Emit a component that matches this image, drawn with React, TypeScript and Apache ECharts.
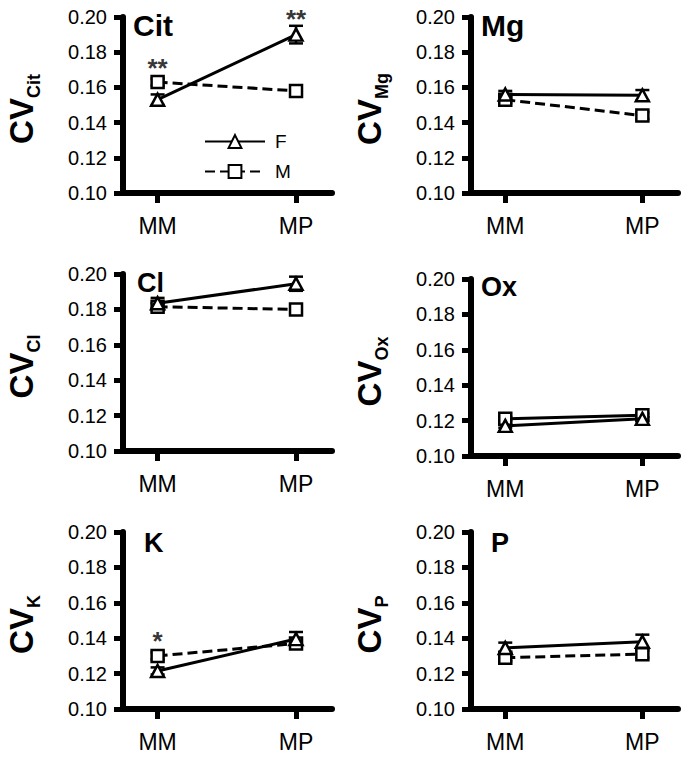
import React, { useEffect, useRef } from 'react';
import * as echarts from 'echarts';

const categories = ['MM', 'MP'];
const panelNames = ['Cit', 'Mg', 'Cl', 'Ox', 'K', 'P'];
const femaleValues = [
  [0.153, 0.190],
  [0.156, 0.1555],
  [0.1835, 0.1945],
  [0.117, 0.121],
  [0.1215, 0.1395],
  [0.1345, 0.138],
];
const femaleErrors = [
  [0.003, 0.005],
  [0.002, 0.003],
  [0.003, 0.004],
  [0.001, 0.001],
  [0.002, 0.004],
  [0.003, 0.004],
];
const maleValues = [
  [0.163, 0.158],
  [0.153, 0.144],
  [0.1815, 0.180],
  [0.121, 0.123],
  [0.130, 0.137],
  [0.129, 0.131],
];
const maleErrors = [
  [0.002, 0.002],
  [0.002, 0.002],
  [0.002, 0.002],
  [0.001, 0.001],
  [0.002, 0.002],
  [0.002, 0.002],
];
const starPanels = [0, 0, 4];
const starCats = [0, 1, 0];
const starValues = [0.1712, 0.199, 0.1386];
const starTexts = ['**', '**', '*'];
const yMin = 0.1;
const yMax = 0.2;
const yInterval = 0.02;

const FONT = "Arial, 'Liberation Sans', sans-serif";
const maleDash: any[] = [[10, 5], [10, 5], [10, 5], 'solid', [10, 5], [10, 5]];
const AXIS_W = 6;
const TICK_W = 5;

const grids = [
  { left: 123, top: 17, width: 209, height: 176 },
  { left: 471, top: 17, width: 207, height: 176 },
  { left: 123, top: 274, width: 209, height: 177 },
  { left: 471, top: 279, width: 207, height: 177 },
  { left: 123, top: 532, width: 209, height: 177 },
  { left: 471, top: 532, width: 207, height: 177 },
];
const titlePos = [
  { x: 133, y: 25, size: 30 },
  { x: 481, y: 25, size: 30 },
  { x: 137, y: 283, size: 27 },
  { x: 481, y: 287, size: 27 },
  { x: 144, y: 543, size: 27 },
  { x: 491, y: 543, size: 27 },
];

export default function App() {
  const ref = useRef<HTMLDivElement>(null);
  useEffect(() => {
    if (!ref.current) return;
    const chart = echarts.init(ref.current, undefined, { renderer: 'svg' });

    const xAxes: any[] = [];
    const yAxes: any[] = [];
    const series: any[] = [];
    const graphic: any[] = [];

    grids.forEach((g, i) => {
      xAxes.push({
        type: 'value',
        gridIndex: i,
        min: -0.25,
        max: 1.26,
        axisLine: { show: true, onZero: false, lineStyle: { color: '#000', width: AXIS_W } },
        axisTick: { show: true, customValues: [0, 1], length: 10, lineStyle: { color: '#000', width: TICK_W } },
        axisLabel: {
          show: true,
          customValues: [0, 1],
          formatter: (v: number) => categories[Math.round(v)] ?? '',
          fontSize: 23,
          color: '#000',
          fontFamily: FONT,
          margin: 21,
        },
        splitLine: { show: false },
      });
      yAxes.push({
        type: 'value',
        gridIndex: i,
        min: yMin,
        max: yMax,
        interval: yInterval,
        axisLine: { show: true, onZero: false, lineStyle: { color: '#000', width: AXIS_W } },
        axisTick: { show: true, length: 9, lineStyle: { color: '#000', width: TICK_W } },
        axisLabel: {
          formatter: (v: number) => v.toFixed(2),
          fontSize: 20,
          color: '#000',
          fontFamily: FONT,
          margin: 16,
        },
        splitLine: { show: false },
      });

      const errData = [
        ...femaleValues[i].map((v, k) => [k, v - femaleErrors[i][k], v + femaleErrors[i][k]]),
        ...maleValues[i].map((v, k) => [k, v - maleErrors[i][k], v + maleErrors[i][k]]),
      ];
      series.push({
        type: 'custom',
        xAxisIndex: i,
        yAxisIndex: i,
        z: 1,
        silent: true,
        encode: { x: 0, y: [1, 2] },
        data: errData,
        renderItem: (params: any, api: any) => {
          const x = api.value(0);
          const lo = api.coord([x, api.value(1)]);
          const hi = api.coord([x, api.value(2)]);
          const hw = 7;
          const st = { stroke: '#000', lineWidth: 2.5 };
          return {
            type: 'group',
            children: [
              { type: 'line', shape: { x1: lo[0], y1: lo[1], x2: hi[0], y2: hi[1] }, style: st },
              { type: 'line', shape: { x1: lo[0] - hw, y1: lo[1], x2: lo[0] + hw, y2: lo[1] }, style: st },
              { type: 'line', shape: { x1: hi[0] - hw, y1: hi[1], x2: hi[0] + hw, y2: hi[1] }, style: st },
            ],
          };
        },
      });
      series.push({
        name: 'M',
        type: 'line',
        xAxisIndex: i,
        yAxisIndex: i,
        z: 2,
        data: maleValues[i].map((v, k) => [k, v]),
        symbol: 'rect',
        symbolSize: 12,
        itemStyle: { color: '#fff', borderColor: '#000', borderWidth: 2.5 },
        lineStyle: { color: '#000', width: 3, type: maleDash[i] },
      });
      series.push({
        name: 'F',
        type: 'line',
        xAxisIndex: i,
        yAxisIndex: i,
        z: 3,
        data: femaleValues[i].map((v, k) => [k, v]),
        symbol: 'triangle',
        symbolSize: [13, 12],
        itemStyle: { color: '#fff', borderColor: '#000', borderWidth: 2.5 },
        lineStyle: { color: '#000', width: 3, type: 'solid' },
      });

      const t = titlePos[i];
      graphic.push({
        type: 'text',
        x: t.x,
        y: t.y,
        silent: true,
        style: {
          text: panelNames[i],
          font: `bold ${t.size}px ${FONT}`,
          fill: '#000',
          textAlign: 'left',
          textVerticalAlign: 'middle',
          verticalAlign: 'middle',
        },
      });
      const axisX = g.left;
      const cy = g.top + g.height / 2 + 4;
      graphic.push({
        type: 'text',
        x: axisX - 102,
        y: cy,
        rotation: Math.PI / 2,
        silent: true,
        style: {
          text: `{a|CV}{b|${panelNames[i]}}`,
          textAlign: 'center',
          textVerticalAlign: 'middle',
          verticalAlign: 'middle',
          fill: '#000',
          rich: {
            a: { fontSize: 33, fontWeight: 'bold', fontFamily: FONT, lineHeight: 43, fill: '#000' },
            b: { fontSize: 18, fontWeight: 'bold', fontFamily: FONT, lineHeight: 17, verticalAlign: 'bottom', fill: '#000' },
          },
        },
      });
    });

    starPanels.forEach((p, j) => {
      series.push({
        type: 'scatter',
        xAxisIndex: p,
        yAxisIndex: p,
        z: 4,
        silent: true,
        symbolSize: 0,
        data: [[starCats[j], starValues[j], starTexts[j]]],
        label: {
          show: true,
          position: 'inside',
          formatter: (prm: any) => prm.data[2],
          fontSize: 26,
          fontWeight: 'bold',
          color: '#000',
          fontFamily: FONT,
        },
      });
    });

    chart.setOption({
      animation: false,
      backgroundColor: '#fff',
      grid: grids.map((g) => ({ ...g, containLabel: false })),
      xAxis: xAxes,
      yAxis: yAxes,
      legend: {
        data: ['F', 'M'],
        orient: 'vertical',
        left: 199,
        top: 127,
        itemWidth: 60,
        itemHeight: 16,
        itemGap: 11,
        selectedMode: false,
        textStyle: { fontSize: 19, color: '#000', fontFamily: FONT, padding: [0, 0, 0, 5] },
      },
      series,
      graphic,
    });
    return () => chart.dispose();
  }, []);
  return (
    <div
      ref={ref}
      style={{ position: 'absolute', left: 0, top: 0, width: 687, height: 759, background: '#fff' }}
    />
  );
}
